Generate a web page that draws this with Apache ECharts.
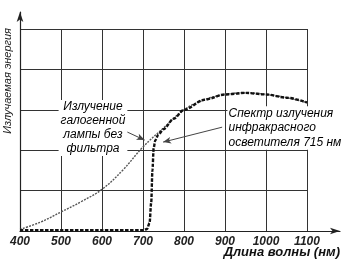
<!DOCTYPE html>
<html>
<head>
<meta charset="utf-8">
<script src="https://cdn.jsdelivr.net/npm/echarts@6/dist/echarts.min.js"></script>
<style>
html,body{margin:0;padding:0;background:#fff;}
#main{width:350px;height:264px;}
</style>
</head>
<body>
<div id="main"></div>
<script>
// длины волн, нм
var halogenNm=[400,450,500,550,600,650,700,750,800,850,900,950,1000,1050,1100];
// излучение галогенной лампы без фильтра
var halogenVal=[0.04,0.22,0.47,0.73,1.03,1.5,2.08,2.55,3.0,3.25,3.38,3.42,3.38,3.3,3.18];
// спектр ИК осветителя 715 нм
var irNm=[400,500,600,700,710,716,720,723,726,730,737,750,775,800,850,900,950,1000,1050,1100];
var irVal=[0.02,0.02,0.02,0.02,0.05,0.2,0.7,1.5,2.05,2.25,2.38,2.52,2.78,3.0,3.25,3.38,3.42,3.38,3.3,3.18];
var xTicks=[400,500,600,700,800,900,1000,1100];

var font='"Liberation Sans", Arial, sans-serif';

function pairs(xs,ys){
	var out=[];
	for(var i=0;i<xs.length;i++){
		out.push([xs[i],ys[i]]);
	}
	return out;
}

var chart=echarts.init(document.getElementById('main'));
var option={
	backgroundColor:'#ffffff',
	animation:false,
	grid:[
		//рамка со стрелками осей
		{left:20,right:10,top:12,bottom:33},
		//область графика
		{left:20,right:43,top:29,bottom:33}
	],
	xAxis:[
		{
			gridIndex:0,type:'value',min:0,max:1,
			axisLine:{show:true,symbol:['none','arrow'],symbolSize:[5,10],lineStyle:{color:'#222',width:1.2}},
			axisTick:{show:false},axisLabel:{show:false},splitLine:{show:false}
		},
		{
			gridIndex:1,type:'value',min:400,max:1100,interval:100,
			axisLine:{show:false},axisTick:{show:false},
			axisLabel:{
				show:true,margin:5,color:'#222',fontSize:12,fontStyle:'italic',fontWeight:'bold',fontFamily:font,
				customValues:xTicks,
				formatter:function(v){return String(v);}
			},
			splitLine:{show:true,lineStyle:{color:'#333',width:1}}
		}
	],
	yAxis:[
		{
			gridIndex:0,type:'value',min:0,max:1,
			axisLine:{show:true,symbol:['none','arrow'],symbolSize:[5,10],lineStyle:{color:'#222',width:1.2}},
			axisTick:{show:false},axisLabel:{show:false},splitLine:{show:false}
		},
		{
			gridIndex:1,type:'value',min:0,max:5,interval:1,
			axisLine:{show:false},axisTick:{show:false},axisLabel:{show:false},
			splitLine:{show:true,lineStyle:{color:'#333',width:1}}
		}
	],
	series:[
		{
			name:'halogen',
			type:'line',
			xAxisIndex:1,yAxisIndex:1,
			data:pairs(halogenNm,halogenVal),
			smooth:0.4,
			showSymbol:false,
			lineStyle:{color:'#555',width:1.4,type:[2,1.2]},
			z:3,
			markLine:{
				silent:true,symbol:['none','arrow'],symbolSize:[5,8],
				label:{show:false},
				lineStyle:{color:'#444',width:1,type:'solid'},
				data:[
					[{coord:[651,2.5]},{coord:[704,2.25]}],
					[{coord:[893,2.57]},{coord:[749,2.2]}]
				]
			},
			markPoint:{
				silent:true,symbol:'rect',symbolSize:0,
				data:[
					{
						coord:[578,2.55],
						label:{
							show:true,position:'inside',
							formatter:'Излучение\nгалогенной\nлампы без\nфильтра',
							align:'center',verticalAlign:'middle',
							color:'#000',fontSize:12,fontStyle:'italic',fontFamily:font,lineHeight:14,
							backgroundColor:'#fff',padding:[0,2]
						}
					},
					{
						coord:[906,2.55],
						label:{
							show:true,position:'inside',
							formatter:'Спектр излучения\nинфракрасного\nосветителя 715 нм',
							align:'left',verticalAlign:'middle',
							color:'#000',fontSize:12,fontStyle:'italic',fontFamily:font,lineHeight:14.5,
							backgroundColor:'#fff',padding:[0,1]
						}
					}
				]
			}
		},
		{
			name:'ir',
			type:'line',
			xAxisIndex:1,yAxisIndex:1,
			data:pairs(irNm,irVal),
			smooth:0.3,
			smoothMonotone:'x',
			showSymbol:false,
			lineStyle:{color:'#111',width:2.4,type:[3.5,1.5]},
			z:4
		}
	],
	graphic:[
		{
			type:'text',left:2,top:28,rotation:Math.PI/2,
			style:{text:'Излучаемая энергия',fill:'#222',font:'italic 11px '+font}
		},
		{
			type:'text',right:10,top:246,
			style:{text:'Длина волны (нм)',fill:'#111',font:'italic bold 13px '+font}
		}
	]
};
chart.setOption(option);
</script>
</body>
</html>
